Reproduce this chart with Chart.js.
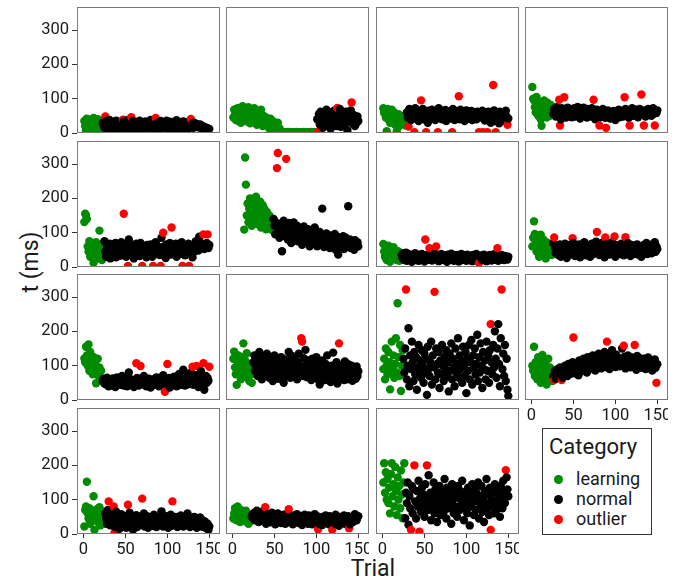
<!DOCTYPE html>
<html>
<head>
<meta charset="utf-8">
<script src="https://cdn.jsdelivr.net/npm/chart.js@4"></script>
<style>
  body { margin: 0; background: #fff; }
  #wrap { position: relative; width: 688px; height: 583px; font-family: Roboto, sans-serif; color: #1a1a1a; }
  #wrap canvas { position: absolute; }
  .axis-title { position: absolute; font-size: 23px; white-space: nowrap; }
  #legend { position: absolute; left: 542px; top: 428px; width: 108px; height: 105px; border: 1px solid #333; }
  #legend .ttl { position: absolute; left: 6px; top: 5px; font-size: 22px; }
  #legend .item { position: absolute; left: 11px; font-size: 18px; line-height: 20px; }
  #legend .dot { display: inline-block; width: 9px; height: 9px; border-radius: 50%; margin-right: 13px; vertical-align: 1px; }
</style>
</head>
<body>
<div id="wrap">
  <div class="axis-title" id="ylab" style="left:30px; top:262px; transform: translate(-50%, -50%) rotate(-90deg);">t (ms)</div>
  <div class="axis-title" style="left:373px; top:568px; transform: translate(-50%, -50%);">Trial</div>
  <div id="legend"></div>
</div>
<script>
// axis ticks and categories
const trialTicks = [0, 50, 100, 150];
const timeTicks = [0, 100, 200, 300];
const categories = ['learning', 'normal', 'outlier'];
const catColors = ['#008B00', '#000000', '#FF0000'];

// per participant: learning trials (from first trial), normal trials after them, outliers as [trial, t]
const learn01 = [35,20,8,42,15,30,25,5,38,12,28,44,18,3,33,22,40,10,27,36,14,30];
const norm01 = [30,22,15,35,28,12,25,38,18,30,24,10,33,27,20,36,15,29,22,8,
  31,26,18,34,12,28,21,37,16,25,30,14,27,35,19,23,11,32,26,17,
  29,36,13,24,31,20,9,27,34,18,25,30,15,22,38,12,28,21,33,16,
  26,10,31,24,19,35,14,27,22,30,17,25,36,12,29,20,33,15,24,28,
  11,32,19,26,37,14,23,30,18,27,22,13,34,25,16,29,21,31,12,26,
  24,18,28,15,30,22,20,26,17,23,18,25,14,21,16,19,12,17,11,15,13,10,12];
const out01 = [[26,48],[47,39],[57,46],[86,44],[128,41]];

const learn02 = [45,68,52,38,60,72,35,55,48,30,65,78,58,42,70,62,34,50,75,44,
  28,56,66,40,52,72,36,60,24,48,38,55,30,68,42,20,50,35,26,45,
  38,20,30,12,42,25,18,35,8,28,15,22,10,30,6,14,
  2,1,1,3,1,2,1,1,2,1,3,1,1,2,1,1,2,1,1,3,1,2,1,1,2,1,1,2,3,1,1,2,1,1,2,1,3,1,1,2,1,1,2,1];
const norm02 = [40,55,25,62,35,48,15,58,30,45,68,22,50,38,60,12,42,55,28,65,
  33,47,20,52,40,70,18,45,58,30,50,25,62,38,8,48,56,35,66,28,44,52,20,40,30,48,35];
const out02 = [[102,3],[125,73],[142,89]];

const learn03 = [72,58,65,45,5,70,40,62,30,55,68,50,35,60,25,48,6,42,55,20,38,50,30,45,28,40,35,22];
const norm03 = [60,45,70,52,38,65,55,48,72,42,58,66,35,50,62,45,70,40,55,60,
  48,30,65,52,58,42,68,55,45,62,38,60,50,72,46,56,64,40,52,58,
  45,67,35,60,50,48,62,42,56,70,52,38,64,58,46,55,40,68,50,62,
  44,58,35,52,66,48,60,42,54,50,64,38,56,46,60,52,40,62,48,58,
  55,45,65,50,36,58,44,62,52,40,30,55,48,66,35,60,45,52,28,62,50,40,58,45,55,35,65,48,42];
const out03 = [[31,19],[38,2],[46,95],[52,2],[66,2],[83,2],[91,107],[115,2],[120,2],[125,2],[132,140],[135,2],[149,24]];

const learn04 = [134,100,95,75,60,105,85,50,70,90,40,21,80,65,95,55,75,45,88,60,70,50,82,65,58];
const norm04 = [55,70,62,48,75,58,66,40,72,60,52,68,45,63,74,57,50,70,61,46,
  66,55,72,48,64,58,76,52,60,42,68,56,62,74,50,65,58,45,70,60,
  54,66,48,72,58,62,40,55,68,50,60,46,64,56,70,52,58,44,62,66,
  50,56,42,60,52,48,64,58,38,55,62,50,68,46,58,54,64,48,60,70,
  52,58,66,44,62,56,72,50,60,64,54,68,58,46,62,70,52,60,56,66,
  48,64,58,70,54,62,66,50,60,72,56,62,58,66];
const out04 = [[33,97],[34,22],[39,104],[74,97],[81,22],[89,15],[111,104],[117,22],[131,112],[134,22],[147,22]];

const learn05 = [131,155,150,140,60,45,75,30,55,68,40,12,62,50,72,35,58,25,106,48,66,20,52,40];
const norm05 = [75,45,30,60,52,38,68,25,55,42,62,35,48,70,28,58,40,65,50,33,
  72,45,55,38,62,30,48,80,42,58,35,65,50,25,55,44,68,38,60,48,
  32,70,52,42,60,36,56,28,64,46,54,40,66,50,30,58,45,72,38,62,
  48,55,35,85,44,60,52,26,66,42,58,48,70,36,54,62,40,50,68,30,
  56,45,64,38,52,72,48,58,34,62,46,55,68,40,60,50,28,66,44,58,
  75,52,62,48,88,56,70,60,66,52,62,58,70,55,64];
const out05 = [[48,155],[53,3],[70,3],[83,3],[92,3],[95,100],[105,115],[118,3],[126,3],[143,95],[148,95]];

const learn06 = [109,319,240,150,185,130,170,200,145,120,190,160,135,175,205,150,125,165,140,190,
  115,155,180,130,170,145,110,160,135,125,150,118,140,108,130];
const norm06 = [140,120,95,130,110,85,125,100,46,115,135,90,105,120,80,110,128,95,70,115,
  100,130,85,108,92,120,75,98,112,88,105,65,95,118,80,100,90,72,110,85,
  60,98,82,105,70,92,115,78,88,60,95,75,102,68,85,170,90,58,80,72,
  98,65,88,76,55,92,70,84,62,78,96,50,74,88,36,68,82,58,75,64,
  90,52,72,85,60,70,177,65,80,55,74,62,68,50,78,58,66,72,60];
const out06 = [[53,288],[54,332],[64,315]];

const learn07 = [67,45,30,55,20,40,62,35,15,50,28,42,58,25,38,48,20,32,45,18,35,25];
const norm07 = [35,25,40,20,30,42,18,28,38,22,33,26,15,36,30,24,40,20,32,27,
  18,35,29,22,38,25,31,16,34,28,21,37,26,30,19,33,24,40,28,22,
  35,17,30,26,38,23,29,20,34,27,31,15,36,25,28,21,39,30,24,18,
  33,27,22,35,29,16,32,26,38,20,28,34,23,30,18,36,25,29,21,33,
  27,17,35,24,30,22,38,26,19,31,28,34,20,25,36,23,29,17,32,26,
  22,35,28,19,30,24,37,21,27,33,18,26,30,22,35,24,28,20,32,25,27,22,30];
const out07 = [[51,80],[56,55],[64,60],[115,12],[137,55]];

const learn08 = [60,85,133,96,70,45,90,55,30,75,94,62,40,80,50,68,25,72,55,38,65,48,58,35,52];
const norm08 = [70,55,40,62,48,35,58,66,30,52,44,60,38,68,50,26,56,42,64,48,
  36,58,70,45,32,54,62,40,50,66,28,56,44,60,38,72,48,34,58,52,
  42,64,30,55,68,46,38,60,50,74,44,56,35,62,48,70,40,54,28,66,
  52,44,60,36,58,48,72,40,56,30,64,50,46,62,38,55,68,42,52,34,
  60,48,56,70,40,58,32,64,46,54,38,62,50,44,66,36,56,48,60,30,
  52,42,64,58,46,70,38,54,62,48,56,40,66,50,58,72,44,60,52];
const out08 = [[27,86],[49,84],[78,102],[88,86],[99,89],[112,87]];

const learn09 = [121,110,155,130,100,162,85,140,95,115,75,125,90,105,49,80,120,70,95,60,85,55];
const norm09 = [55,62,48,58,45,65,52,40,60,50,56,42,63,48,54,38,58,66,46,52,
  60,44,55,70,48,42,58,52,62,40,50,80,46,56,60,44,52,38,58,48,
  64,50,42,56,46,60,52,70,44,55,40,58,48,62,50,36,56,46,60,52,
  44,58,66,48,54,40,62,50,56,46,72,42,58,52,48,64,36,56,60,44,
  52,68,46,58,40,62,50,76,54,44,60,48,88,56,42,64,52,70,46,58,
  50,80,62,44,56,72,48,60,38,66,54,84,46,62,30,58,70,50,64,56];
const out09 = [[63,107],[68,99],[97,24],[100,105],[130,97],[135,99],[143,107],[150,97]];

const learn10 = [120,141,95,75,44,110,130,85,100,60,125,70,165,90,115,80,136,65,105,55,95,75,50,85];
const norm10 = [110,130,85,95,120,70,105,140,90,115,60,100,125,80,110,95,135,75,120,65,
  100,88,118,55,95,130,78,108,90,62,115,98,72,125,85,105,50,92,118,70,
  100,80,140,112,65,95,128,85,105,75,118,90,60,110,135,82,98,70,122,88,
  146,104,66,92,115,78,100,58,120,86,108,72,95,125,62,88,110,45,98,80,
  115,70,92,58,105,82,130,68,95,76,52,100,85,138,62,90,75,110,48,82,
  95,65,102,78,88,58,112,72,96,60,104,80,90,68,100,56,86,92,74,62,98,70,84];
const out10 = [[82,180],[83,170],[127,165]];

const learn11 = [90,120,60,150,100,75,140,110,31,85,170,95,130,65,105,180,80,282,125,70,160,26,100,145];
const norm11 = [120,80,150,60,100,209,40,130,90,170,110,55,140,75,125,30,95,160,85,115,
  65,145,100,50,135,80,120,15,155,90,70,110,170,45,130,95,60,150,105,80,
  140,35,115,75,160,100,55,125,90,145,70,110,25,135,85,165,60,120,95,40,
  150,105,75,180,65,130,90,115,50,155,100,70,140,20,120,85,160,60,110,175,
  45,130,95,150,75,105,190,55,125,80,165,100,35,140,90,115,60,170,85,130,
  50,145,110,75,160,95,200,120,65,150,221,105,40,180,90,135,70,160,55,120,30,12];
const out11 = [[28,322],[62,315],[129,221],[142,322]];

const learn12 = [100,85,155,70,110,95,60,125,80,105,50,90,131,75,115,65,100,45,85,120,70,95,60,80,55];
const norm12 = [70,85,62,78,90,68,75,95,82,65,88,72,100,80,92,70,105,84,76,98,
  88,110,78,95,85,102,90,72,115,96,84,108,92,120,88,100,112,80,125,98,
  106,90,118,102,130,94,112,86,122,108,98,135,104,116,92,126,110,100,140,96,
  118,106,128,90,120,112,145,100,124,108,96,132,114,104,122,98,118,110,150,102,
  126,92,116,108,130,100,120,95,112,124,106,98,118,88,128,110,100,122,94,114,
  104,96,120,108,90,115,100,124,92,106,112,98,86,110,100,118,94,104];
const out12 = [[27,58],[36,58],[50,182],[90,170],[110,158],[123,160],[149,50]];

const learn13 = [22,70,80,152,60,45,75,30,55,68,40,110,12,62,50,72,35,58,78,25,48,66,40,55,30];
const norm13 = [60,45,30,70,40,25,55,35,50,20,65,38,28,48,15,42,58,32,22,45,
  36,52,18,40,30,62,25,44,34,12,48,28,38,55,20,42,32,50,26,46,
  36,60,22,40,30,52,18,44,34,28,48,38,24,56,32,42,20,50,36,26,
  45,30,66,40,22,48,34,28,52,38,18,44,30,56,24,42,36,26,50,32,
  20,46,38,28,54,30,40,22,48,34,26,42,60,30,36,20,46,32,40,24,
  50,28,38,18,44,34,26,48,30,22,40,32,20,36,28,16,30,12,22];
const out13 = [[30,95],[36,80],[37,4],[53,85],[70,103],[106,95]];

const learn14 = [45,60,75,55,40,80,65,50,35,70,58,45,62,38,52,68,42,55,30,48,36,44];
const norm14 = [50,58,45,62,40,55,68,48,35,60,52,42,65,38,50,56,30,46,58,40,
  52,34,48,62,44,38,55,28,50,42,60,36,46,54,32,48,40,56,44,30,
  52,38,60,46,34,50,42,28,54,40,48,36,58,44,32,50,38,46,26,52,
  42,56,34,48,40,30,54,44,36,50,28,46,40,58,34,42,52,30,48,38,
  44,26,50,40,36,54,32,46,42,28,52,38,44,34,48,30,56,40,36,46,
  24,50,42,32,48,38,54,30,44,40,36,52,28,46,42,34,50,38,58,44,40,48,52];
const out14 = [[39,78],[67,72],[102,14],[119,12],[139,17]];

const learn15 = [150,206,120,180,100,160,90,135,60,175,206,110,145,80,195,125,55,165,100,140,75,185,115,46,150,206];
const norm15 = [46,120,90,150,27,110,75,140,60,130,95,45,125,80,155,105,65,135,85,115,
  50,145,100,70,171,90,120,40,110,80,150,60,130,95,35,115,75,140,55,105,
  85,125,65,160,95,45,135,110,75,120,90,30,145,100,60,130,80,115,50,140,
  105,70,125,85,155,95,40,120,75,110,60,135,90,25,115,80,145,100,55,130,
  70,120,95,150,45,110,85,140,65,105,35,125,90,160,75,115,55,135,100,80,
  120,60,145,95,70,130,85,110,50,140,100,75,155,120,90,165,130,110];
const out15 = [[34,12],[38,200],[44,7],[53,200],[129,12],[147,186]];

const firstTrial = [1,1,1,1, 1,14,1,1, 1,1,1,1, 1,1,1];

const panels = [
  [learn01, norm01, out01], [learn02, norm02, out02], [learn03, norm03, out03], [learn04, norm04, out04],
  [learn05, norm05, out05], [learn06, norm06, out06], [learn07, norm07, out07], [learn08, norm08, out08],
  [learn09, norm09, out09], [learn10, norm10, out10], [learn11, norm11, out11], [learn12, norm12, out12],
  [learn13, norm13, out13], [learn14, norm14, out14], [learn15, norm15, out15]
];

// facet grid geometry
const colLeft = [77, 226, 376, 525];
const rowTop = [7, 141, 274, 408];
const panelW = 143, panelH = 126;
const yAxisW = 77, xAxisH = 28, gapH = 10;

// puts every trial in order so later trials overlap earlier ones
function buildPoints(learn, norm, out, first) {
  const pts = [];
  learn.forEach((v, i) => pts.push({ x: first + i, y: v, c: 0 }));
  const outTrials = out.map(o => o[0]);
  let t = first + learn.length;
  norm.forEach(v => {
    while (outTrials.includes(t)) t++;
    pts.push({ x: t, y: v, c: 1 });
    t++;
  });
  out.forEach(o => pts.push({ x: o[0], y: o[1], c: 2 }));
  pts.sort((a, b) => a.x - b.x);
  return pts;
}

// fixed axis sizes, no extra room for edge labels
function fixSize(s, size) {
  if (s.isHorizontal()) s.height = size; else s.width = size;
  s.paddingTop = s.paddingBottom = s.paddingLeft = s.paddingRight = 0;
}

const panelFrame = {
  id: 'panelFrame',
  afterDraw(chart) {
    const { ctx, chartArea: a } = chart;
    ctx.save();
    ctx.strokeStyle = '#7a7a7a';
    ctx.lineWidth = 1;
    ctx.strokeRect(a.left + 0.5, a.top + 0.5, a.right - a.left - 1, a.bottom - a.top - 1);
    ctx.restore();
  }
};

const wrap = document.getElementById('wrap');

panels.forEach((p, i) => {
  const row = Math.floor(i / 4), col = i % 4;
  const isLeft = col === 0;
  // bottom of its column: last row, or the 4th column of row 3 (slot below holds the legend)
  const isBottom = row === 3 || (row === 2 && col === 3);
  const pts = buildPoints(p[0], p[1], p[2], firstTrial[i]);

  const cv = document.createElement('canvas');
  const w = panelW + (isLeft ? yAxisW : 0);
  const h = panelH + (isBottom ? xAxisH : gapH);
  cv.width = w; cv.height = h;
  cv.style.width = w + 'px'; cv.style.height = h + 'px';
  cv.style.left = (isLeft ? colLeft[0] - yAxisW : colLeft[col]) + 'px';
  cv.style.top = rowTop[row] + 'px';
  wrap.appendChild(cv);

  new Chart(cv, {
    type: 'scatter',
    data: {
      datasets: [{
        data: pts,
        pointBackgroundColor: pts.map(d => catColors[d.c]),
        pointBorderWidth: 0,
        pointRadius: 4.2,
        pointHoverRadius: 4.2
      }]
    },
    options: {
      responsive: false,
      animation: false,
      devicePixelRatio: 1,
      layout: { padding: 0, autoPadding: false },
      plugins: { legend: { display: false }, tooltip: { enabled: false } },
      scales: {
        x: {
          type: 'linear',
          min: -7.75, max: 162.75,
          afterBuildTicks: s => { s.ticks = trialTicks.map(v => ({ value: v })); },
          afterFit: s => fixSize(s, isBottom ? xAxisH : gapH),
          grid: { drawOnChartArea: false, drawTicks: isBottom, tickLength: 4, color: '#333' },
          border: { display: false },
          ticks: { display: isBottom, font: { family: 'Roboto', size: 16.5 }, color: '#1a1a1a', padding: 2, maxRotation: 0, autoSkip: false }
        },
        y: {
          type: 'linear',
          display: isLeft,
          min: 0, max: 367,
          afterBuildTicks: s => { s.ticks = timeTicks.map(v => ({ value: v })); },
          afterFit: s => fixSize(s, isLeft ? yAxisW : 0),
          grid: { drawOnChartArea: false, tickLength: 5, color: '#333' },
          border: { display: false },
          ticks: { font: { family: 'Roboto', size: 16.5 }, color: '#1a1a1a', padding: 3, autoSkip: false }
        }
      }
    },
    plugins: [panelFrame]
  });
});

// legend box
const legend = document.getElementById('legend');
legend.innerHTML = '<div class="ttl">Category</div>' + categories.map((c, i) =>
  `<div class="item" style="top:${40 + i * 20}px"><span class="dot" style="background:${catColors[i]}"></span>${c}</div>`
).join('');
</script>
</body>
</html>
